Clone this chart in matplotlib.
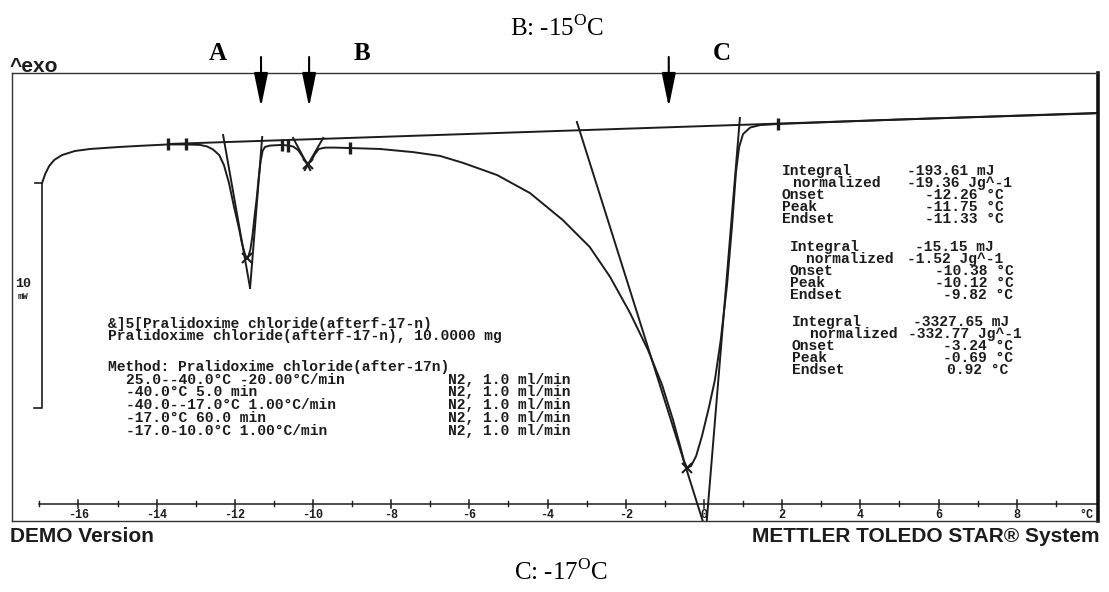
import numpy as np
import matplotlib
matplotlib.use("Agg")
import matplotlib.pyplot as plt
from matplotlib.transforms import blended_transform_factory

plt.rcParams['mathtext.fontset'] = 'custom'
plt.rcParams['mathtext.rm'] = 'Liberation Serif'

# ---------------- data ----------------
temp_C = [-16.93, -16.85, -16.75, -16.62, -16.42, -16.09, -15.70, -14.94, -14.30, -13.71,
          -13.25, -12.89, -12.71, -12.56, -12.40, -12.28, -12.15, -12.02, -11.89, -11.82,
          -11.75, -11.70, -11.65, -11.60, -11.55, -11.50, -11.44, -11.39, -11.34, -11.29,
          -11.23, -11.10, -10.79, -10.64, -10.51, -10.38, -10.28, -10.20, -10.13, -10.05,
          -9.95, -9.85, -9.69, -9.44, -9.05, -8.29, -7.44, -6.75, -6.16, -5.29,
          -4.45, -3.61, -2.92, -2.40, -1.89, -1.43, -1.07, -0.79, -0.61, -0.51,
          -0.43, -0.33, -0.20, -0.05, 0.13, 0.28, 0.43, 0.59, 0.72, 0.82,
          0.90, 1.00, 1.18, 1.43, 1.89, 5.01, 10.00]
heat_flow_mW = [14.27, 14.67, 15.02, 15.29, 15.51, 15.69, 15.78, 15.87, 15.93, 15.98,
                15.98, 15.96, 15.89, 15.76, 15.51, 15.07, 14.27, 13.20, 12.22, 11.60,
                11.16, 10.93, 11.02, 11.33, 11.91, 12.71, 13.60, 14.49, 15.24, 15.69,
                15.87, 15.93, 15.96, 15.93, 15.89, 15.73, 15.47, 15.24, 15.13, 15.24,
                15.56, 15.78, 15.84, 15.84, 15.82, 15.78, 15.64, 15.47, 15.16, 14.62,
                13.82, 12.62, 11.42, 10.09, 8.49, 6.84, 5.29, 3.73, 2.58, 1.91,
                1.60, 1.69, 2.13, 3.02, 4.31, 5.51, 7.29, 9.73, 12.40, 14.76,
                15.87, 16.44, 16.73, 16.84, 16.89, 17.09, 17.36]

baseline_T = [-13.71, 10.05]
baseline_mW = [16.00, 17.38]

limit_marks_T = [-13.71, -13.25, -10.79, -10.64, -9.05, 1.89]
peak_marks_T = [-11.70, -10.13, -0.43]

tangent_T = [[-12.30, -11.61], [-11.30, -11.61], [-10.51, -10.07],
             [-9.74, -10.21], [-3.25, 0.05], [0.92, 0.05]]
tangent_mW = [[16.40, 9.60], [16.31, 9.60], [16.27, 14.84],
              [16.27, 14.84], [16.98, -1.20], [17.16, -1.20]]

arrow_T = [-11.33, -10.10, -0.90]
region_labels = ["A", "B", "C"]
region_label_T = [-12.43, -8.75, 0.46]

major_ticks = list(range(-16, 9, 2))
minor_ticks = [t for t in range(-17, 10) if t % 2 != 0]

scale_bar_mW = 10

sample_lines = ["&]5[Pralidoxime chloride(afterf-17-n)",
                "Pralidoxime chloride(afterf-17-n), 10.0000 mg"]
method_title = "Method: Pralidoxime chloride(after-17n)"
method_steps = ["25.0--40.0°C -20.00°C/min",
                "-40.0°C 5.0 min",
                "-40.0--17.0°C 1.00°C/min",
                "-17.0°C 60.0 min",
                "-17.0-10.0°C 1.00°C/min"]
method_gas = ["N2, 1.0 ml/min"] * 5

result_labels = ["Integral", "normalized", "Onset", "Peak", "Endset"]
result_values = [["-193.61 mJ", "-19.36 Jg^-1", "-12.26 °C", "-11.75 °C", "-11.33 °C"],
                 ["-15.15 mJ", "-1.52 Jg^-1", "-10.38 °C", "-10.12 °C", "-9.82 °C"],
                 ["-3327.65 mJ", "-332.77 Jg^-1", "-3.24 °C", "-0.69 °C", "0.92 °C"]]

# ---------------- layout ----------------
W, H = 1109, 592
def fx(x):
    return x / W
def fy(y):
    return 1 - y / H

INK = "#1c1c1c"
MONO = "Liberation Mono"
LW = 1.4

fig = plt.figure(figsize=(W / 100, H / 100), dpi=100)
fig.patch.set_facecolor("white")
ax = fig.add_axes([fx(12), fy(521), (1098 - 12) / W, (521 - 73) / H])
ax.set_xlim(-17.70, 10.08)
ax.set_ylim(-0.756, 19.156)
ax.set_xticks([])
ax.set_yticks([])
for side in ["left", "top", "bottom"]:
    ax.spines[side].set_color("#333333")
    ax.spines[side].set_linewidth(1.0)
ax.spines["right"].set_color("#111111")
ax.spines["right"].set_linewidth(2.6)

# curve
ax.plot(temp_C, heat_flow_mW, color=INK, lw=LW, solid_joinstyle="round")
# baseline
ax.plot(baseline_T, baseline_mW, color=INK, lw=LW)
# tangents
for tx, ty in zip(tangent_T, tangent_mW):
    ax.plot(tx, ty, color=INK, lw=LW)
# integration limit markers
ax.plot(limit_marks_T, np.interp(limit_marks_T, temp_C, heat_flow_mW), ls="none",
        marker="|", ms=9, mew=2.4, color=INK)
# peak markers
ax.plot(peak_marks_T, np.interp(peak_marks_T, temp_C, heat_flow_mW), ls="none",
        marker="x", ms=7, mew=1.5, color=INK)

# scale bar
t0, y0 = temp_C[0], heat_flow_mW[0]
ax.plot([t0 - 0.18, t0, t0, t0 - 0.22], [y0, y0, y0 - scale_bar_mW, y0 - scale_bar_mW],
        color=INK, lw=1.2)
ax.text(-17.41, 9.78, str(scale_bar_mW), fontsize=9.5, family=MONO, weight="bold",
        ha="center", va="center", color=INK)
ax.text(-17.41, 9.20, "mW", fontsize=6.5, family=MONO, weight="bold",
        ha="center", va="center", color=INK)

# temperature axis drawn inside the frame
ax.plot([-17.0, 10.05], [0, 0], color=INK, lw=1.1)
for t in major_ticks:
    ax.plot([t, t], [-0.17, 0.19], color=INK, lw=1.1)
    ax.text(t, -0.50, f"{t}", fontsize=8.5, family=MONO, weight="bold",
            ha="center", va="center", color=INK)
for t in minor_ticks:
    ax.plot([t, t], [-0.10, 0.14], color=INK, lw=1.0)
ax.text(9.95, -0.50, "°C", fontsize=8.5, family=MONO, weight="bold",
        ha="right", va="center", color=INK)

# arrows and region letters above the frame
bt = blended_transform_factory(ax.transData, fig.transFigure)
for t in arrow_T:
    ax.annotate("", xy=(t, fy(107)), xycoords=bt, xytext=(t, fy(57)), textcoords=bt,
                annotation_clip=False,
                arrowprops=dict(arrowstyle="-|>,head_length=1.6,head_width=0.33",
                                mutation_scale=13, lw=1.5, color="black",
                                shrinkA=0, shrinkB=0))
for lab, t in zip(region_labels, region_label_T):
    ax.text(t, fy(53), lab, transform=bt, fontsize=18, family="Liberation Serif",
            weight="bold", ha="center", va="center", color="black", clip_on=False)

# titles around the chart
fig.text(fx(510), fy(28), r"B: -15$^{\mathrm{O}}$C", fontsize=18,
         family="Liberation Serif", ha="left", va="center", color="black")
fig.text(fx(514), fy(572), r"C: -17$^{\mathrm{O}}$C", fontsize=18,
         family="Liberation Serif", ha="left", va="center", color="black")
fig.text(fx(10), fy(66), "^exo", fontsize=15, family="Liberation Sans", weight="bold",
         ha="left", va="center", color=INK)
fig.text(fx(10), fy(536), "DEMO Version", fontsize=15, family="Liberation Sans",
         weight="bold", ha="left", va="center", color=INK)
fig.text(fx(1100), fy(536), "METTLER TOLEDO STAR® System", fontsize=15,
         family="Liberation Sans", weight="bold", ha="right", va="center", color=INK)

# sample / method block
mono_kw = dict(fontsize=10.5, family=MONO, weight="bold", ha="left", va="center",
               color=INK)
for line, y in zip(sample_lines, [324, 336]):
    fig.text(fx(108), fy(y), line, **mono_kw)
fig.text(fx(108), fy(367), method_title, **mono_kw)
for step, gas, y in zip(method_steps, method_gas, [380, 392, 405, 418, 431]):
    fig.text(fx(126), fy(y), step, **mono_kw)
    fig.text(fx(448), fy(y), gas, **mono_kw)

# evaluation results
block_layout = [
    (782, 793, [171, 183, 195, 207, 219], [907, 907, 925, 925, 925]),
    (790, 806, [247, 259, 271, 283, 295], [915, 907, 935, 935, 943]),
    (792, 810, [322, 334, 346, 358, 370], [913, 908, 943, 943, 947]),
]
for values, (lx, nx, ys, vxs) in zip(result_values, block_layout):
    for i, (lab, val) in enumerate(zip(result_labels, values)):
        fig.text(fx(nx if i == 1 else lx), fy(ys[i]), lab, **mono_kw)
        fig.text(fx(vxs[i]), fy(ys[i]), val, **mono_kw)

fig.savefig("out.png", dpi=100, facecolor="white")
